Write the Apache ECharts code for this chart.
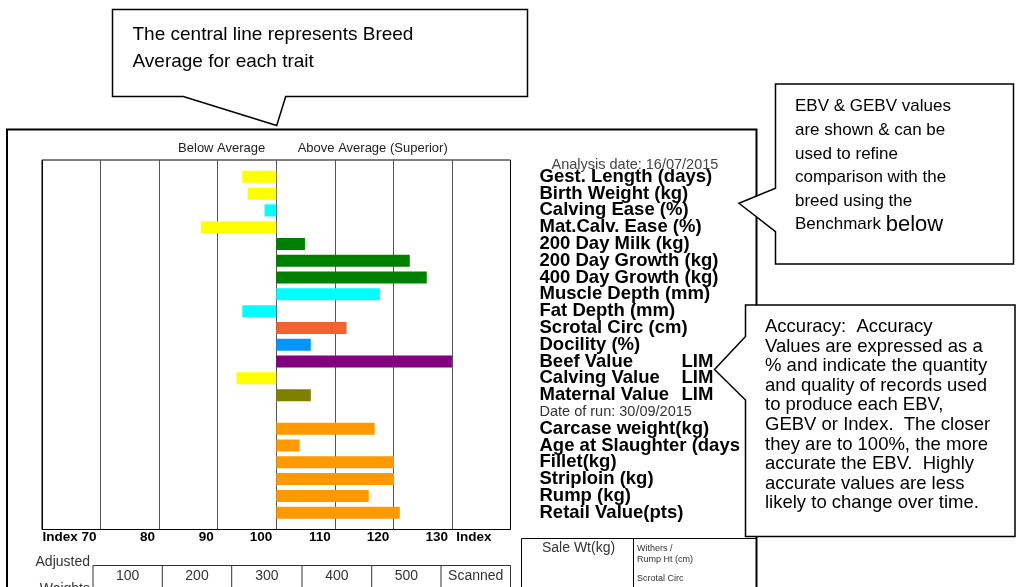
<!DOCTYPE html>
<html>
<head>
<meta charset="utf-8">
<title>Breed comparison</title>
<script src="https://cdn.jsdelivr.net/npm/echarts@6/dist/echarts.min.js"></script>
<style>
  html, body { margin: 0; padding: 0; background: #fff; }
  #chart { width: 1019px; height: 587px; }
</style>
</head>
<body>
<div id="chart"></div>
<script>
// rows top to bottom, first and last slot have no bar
const rowLabels = ['Analysis date: 16/07/2015', 'Gest. Length (days)', 'Birth Weight (kg)', 'Calving Ease (%)',
  'Mat.Calv. Ease (%)', '200 Day Milk (kg)', '200 Day Growth (kg)', '400 Day Growth (kg)', 'Muscle Depth (mm)',
  'Fat Depth (mm)', 'Scrotal Circ (cm)', 'Docility (%)', 'Beef Value', 'Calving Value', 'Maternal Value',
  'Date of run: 30/09/2015', 'Carcase weight(kg)', 'Age at Slaughter (days)', 'Fillet(kg)', 'Striploin (kg)',
  'Rump (kg)', 'Retail Value(pts)', ''];
// index of each row, 100 = breed average
const indexValues = [null, 94.2, 95.1, 98.0, 87.1, 104.9, 122.8, 125.7, 117.7, 94.2, 112.0, 105.9, 130.0,
  93.2, 105.9, null, 116.8, 104.0, 120.1, 120.1, 115.8, 121.1, null];
const barColors = [null, '#ffff00', '#ffff00', '#00ffff', '#ffff00', '#008000', '#008000', '#008000', '#00ffff',
  '#00ffff', '#f26130', '#0096ff', '#800080', '#ffff00', '#808000', null, '#ff9900', '#ff9900', '#ff9900',
  '#ff9900', '#ff9900', '#ff9900', null];
const breedRows = ['Beef Value', 'Calving Value', 'Maternal Value'];
const breedCode = 'LIM';
const breedAverage = 100;
const indexTicks = [60, 70, 80, 90, 100, 110, 120, 130, 140];
const tickLabels = ['', 'Index 70', '80', '90', '100', '110', '120', '130', 'Index'];
const weightCols = ['100', '200', '300', '400', '500', 'Scanned'];

const note1 = ['The central line represents Breed', 'Average for each trait'];
const note2 = ['EBV & GEBV values', 'are shown & can be', 'used to refine', 'comparison with the', 'breed using the'];
const note3 = ['Accuracy:  Accuracy', 'Values are expressed as a', '% and indicate the quantity',
  'and quality of records used', 'to produce each EBV,', 'GEBV or Index.  The closer',
  'they are to 100%, the more', 'accurate the EBV.  Highly', 'accurate values are less',
  'likely to change over time.'];

const FONT = '"Liberation Sans", Arial, sans-serif';

function txt(x, y, text, size, opt) {
  opt = opt || {};
  return {
    type: 'text', x: x, y: y, z: 110, zlevel: opt.zlevel || 0,
    style: {
      text: text,
      font: (opt.bold ? 'bold ' : '') + size + 'px ' + FONT,
      fill: opt.color || '#000',
      align: opt.align || 'left',
      verticalAlign: 'middle',
      rich: opt.rich
    }
  };
}
// callout box drawn on its own layer so it sits above the chart text
function callout(points) {
  return { type: 'polygon', z: 100, zlevel: 1, shape: { points: points },
    style: { fill: '#fff', stroke: '#000', lineWidth: 1.5 } };
}
function line(x1, y1, x2, y2, w, c) {
  return { type: 'line', z: 90, shape: { x1: x1, y1: y1, x2: x2, y2: y2 },
    style: { stroke: c || '#000', lineWidth: w || 1 } };
}

const graphics = [];
// page frame
graphics.push({ type: 'polyline', z: 90, shape: { points: [[7, 590], [7, 129.5], [756.5, 129.5], [756.5, 320]] },
  style: { stroke: '#000', lineWidth: 2, fill: null } });
graphics.push(line(756.5, 536, 756.5, 590, 2));
graphics.push(txt(221.7, 148.5, 'Below Average', 13, { color: '#222', align: 'center' }));
graphics.push(txt(372.7, 148.5, 'Above Average (Superior)', 13, { color: '#222', align: 'center' }));

// adjusted weights table
const colX = [93, 162.3, 231.7, 302, 371.7, 441, 510.5];
graphics.push(line(93, 565.5, 510.5, 565.5, 1, '#333'));
colX.forEach(function (x) { graphics.push(line(x, 565.5, x, 590, 1, '#333')); });
weightCols.forEach(function (t, i) {
  graphics.push(txt((colX[i] + colX[i + 1]) / 2, 576, t, 14, { color: '#333', align: 'center' }));
});
graphics.push(txt(90, 562, 'Adjusted', 14, { color: '#333', align: 'right' }));
graphics.push(txt(90, 589, 'Weights', 14, { color: '#333', align: 'right' }));

// sale weight box
graphics.push(line(521.5, 538.5, 757, 538.5));
graphics.push(line(521.5, 538.5, 521.5, 590));
graphics.push(line(633.5, 538.5, 633.5, 590));
graphics.push(txt(542, 548.5, 'Sale Wt(kg)', 14, { color: '#333' }));
graphics.push(txt(637, 548.5, 'Withers /', 9, { color: '#333' }));
graphics.push(txt(637, 559.5, 'Rump Ht (cm)', 9, { color: '#333' }));
graphics.push(txt(637, 579, 'Scrotal Circ', 9, { color: '#333' }));

// callouts
graphics.push(callout([[112.5, 9.5], [527.5, 9.5], [527.5, 96.5], [285.7, 96.5], [276.7, 125.5], [183.3, 96.5], [112.5, 96.5]]));
note1.forEach(function (t, i) { graphics.push(txt(132.5, 35 + i * 27, t, 19, { zlevel: 1 })); });

graphics.push(callout([[775.5, 84], [1013.5, 84], [1013.5, 264], [775.5, 264], [775.5, 231.7], [739, 203.3], [775.5, 188.3]]));
note2.forEach(function (t, i) { graphics.push(txt(795, 106.7 + i * 23.6, t, 17, { zlevel: 1 })); });
graphics.push(txt(795, 224.5, '{a|Benchmark }{b|below}', 17, {
  zlevel: 1,
  rich: { a: { font: '17px ' + FONT, fill: '#000' }, b: { font: '22px ' + FONT, fill: '#000' } }
}));

graphics.push(callout([[745.5, 305], [1015, 305], [1015, 536.5], [745.5, 536.5], [745.5, 400], [714.5, 369.5], [745.5, 336.5]]));
note3.forEach(function (t, i) { graphics.push(txt(765, 327 + i * 19.6, t, 18.5, { zlevel: 1 })); });

const chart = echarts.init(document.getElementById('chart'));
chart.setOption({
  animation: false,
  grid: { left: 42, right: 508.5, top: 160, bottom: 57.5, show: true, borderColor: '#000', borderWidth: 1 },
  xAxis: {
    type: 'value',
    min: indexTicks[0] - breedAverage,
    max: indexTicks[indexTicks.length - 1] - breedAverage,
    interval: 10,
    axisLine: { show: false },
    axisTick: { show: false },
    splitLine: {
      show: true,
      lineStyle: { color: ['#000', '#555', '#555', '#555', '#555', '#555', '#555', '#555', '#000'], width: 1 }
    },
    axisLabel: {
      showMinLabel: true, showMaxLabel: true,
      margin: 1,
      align: 'right',
      padding: [0, 4, 0, 0],
      fontFamily: FONT, fontWeight: 'bold', fontSize: 13.5, color: '#000',
      formatter: function (v) {
        const i = indexTicks.indexOf(v + breedAverage);
        if (i === indexTicks.length - 1) return '{end|' + tickLabels[i] + '}';
        return i >= 0 ? tickLabels[i] : '';
      },
      rich: { end: { padding: [0, 15, 0, 0], fontFamily: FONT, fontWeight: 'bold', fontSize: 13.5, color: '#000' } }
    }
  },
  yAxis: {
    type: 'category',
    data: rowLabels,
    inverse: true,
    boundaryGap: false,
    position: 'right',
    axisLine: { show: false },
    axisTick: { show: false },
    splitLine: { show: false },
    axisLabel: {
      interval: 0,
      margin: 29,
      width: 203,
      overflow: 'truncate',
      ellipsis: '',
      fontFamily: FONT, fontWeight: 'bold', fontSize: 18.5, color: '#000',
      formatter: function (v, idx) {
        if (idx === 0) return '{an|' + v + '}';
        if (v.indexOf('Date of run') === 0) return '{dr|' + v + '}';
        if (breedRows.indexOf(v) >= 0) return '{tr|' + v + '}{tr2|' + breedCode + '}';
        return v;
      },
      rich: {
        an: { fontFamily: FONT, fontWeight: 'normal', fontSize: 14.5, color: '#444', padding: [10, 0, 0, 12] },
        dr: { fontFamily: FONT, fontWeight: 'normal', fontSize: 14.5, color: '#333' },
        tr: { fontFamily: FONT, fontWeight: 'bold', fontSize: 18.5, color: '#000', width: 142 },
        tr2: { fontFamily: FONT, fontWeight: 'bold', fontSize: 18.5, color: '#000' }
      }
    }
  },
  series: [{
    type: 'bar',
    barWidth: 12,
    data: indexValues.map(function (v, i) {
      if (v === null) return null;
      return { value: +(v - breedAverage).toFixed(1), itemStyle: { color: barColors[i] } };
    })
  }],
  graphic: graphics
});
</script>
</body>
</html>
